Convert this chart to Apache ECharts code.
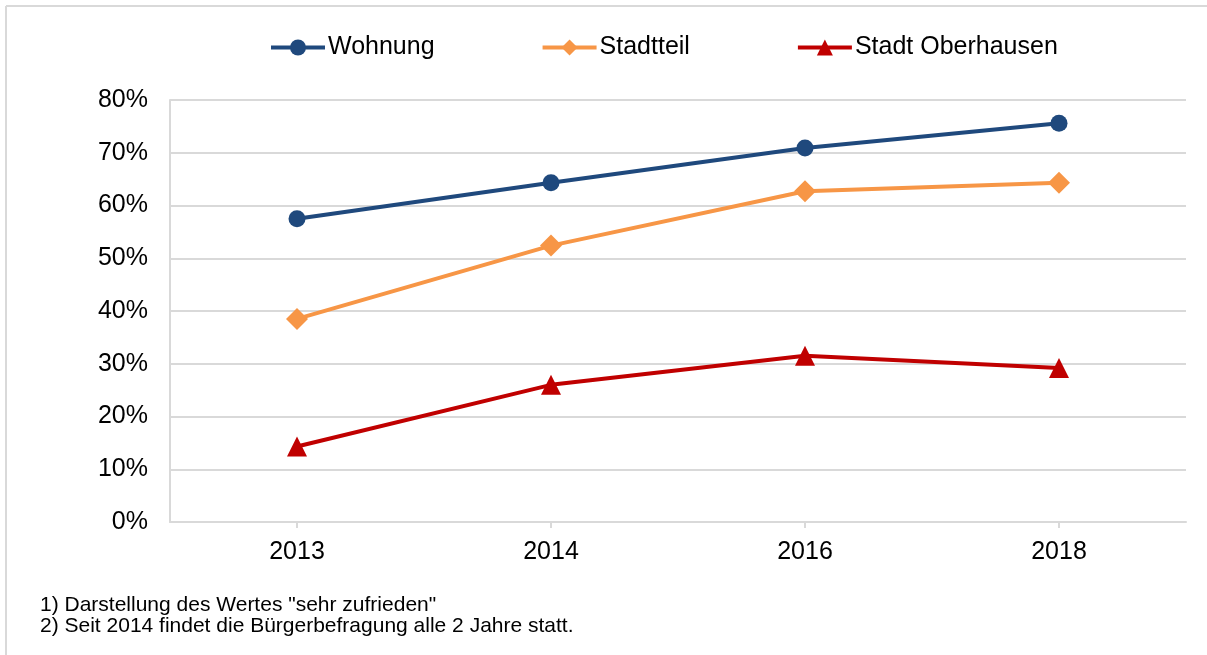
<!DOCTYPE html>
<html>
<head>
<meta charset="utf-8">
<script src="https://cdn.jsdelivr.net/npm/echarts@6/dist/echarts.min.js"></script>
<style>
  html, body { margin: 0; padding: 0; background: #fff; }
  #chart { width: 1207px; height: 655px; }
</style>
</head>
<body>
<div id="chart"></div>
<script>
var years = ['2013', '2014', '2016', '2018'];
var wohnung = [57.5, 64.3, 70.9, 75.6];
var stadtteil = [38.5, 52.4, 62.7, 64.3];
var stadtOberhausen = [14.3, 26.0, 31.5, 29.2];
var footnotes = [
    '1) Darstellung des Wertes "sehr zufrieden"',
    '2) Seit 2014 findet die Bürgerbefragung alle 2 Jahre statt.'
];

var chart = echarts.init(document.getElementById('chart'));
var font = '"Liberation Sans", Arial, sans-serif';

function lineSeries(name, data, color, symbol, size) {
    return {
        name: name,
        type: 'line',
        data: data,
        symbol: symbol,
        symbolSize: size,
        lineStyle: { width: 4, color: color },
        itemStyle: { color: color },
        emphasis: { disabled: true },
        z: 3
    };
}

chart.setOption({
    backgroundColor: '#fff',
    animation: false,
    textStyle: { fontFamily: font },
    legend: {
        left: 264,
        top: 30,
        itemWidth: 54,
        itemHeight: 20,
        itemGap: 106,
        lineStyle: { width: 4 },
        textStyle: { fontSize: 25, color: '#000', fontFamily: font, padding: [0, 0, 0, -2] },
        data: ['Wohnung', 'Stadtteil', 'Stadt Oberhausen']
    },
    grid: { left: 170, right: 21, top: 100, bottom: 133, containLabel: false },
    xAxis: {
        type: 'category',
        data: years,
        boundaryGap: true,
        axisLine: { lineStyle: { color: '#d9d9d9', width: 2 } },
        axisTick: { show: true, alignWithLabel: true, length: 6, lineStyle: { color: '#d9d9d9', width: 2 } },
        axisLabel: { fontSize: 25, color: '#000', margin: 18, fontFamily: font }
    },
    yAxis: {
        type: 'value',
        min: 0,
        max: 80,
        interval: 10,
        axisLine: { show: true, lineStyle: { color: '#d9d9d9', width: 2 } },
        axisTick: { show: false },
        splitLine: { lineStyle: { color: '#d9d9d9', width: 2 } },
        axisLabel: { formatter: '{value}%', fontSize: 25, color: '#000', margin: 22, fontFamily: font }
    },
    graphic: [
        { type: 'line', shape: { x1: 6, y1: 6, x2: 1207, y2: 6 }, style: { stroke: '#d9d9d9', lineWidth: 2 } },
        { type: 'line', shape: { x1: 6, y1: 6, x2: 6, y2: 655 }, style: { stroke: '#d9d9d9', lineWidth: 2 } },
        {
            type: 'text', left: 40, top: 595,
            style: { text: footnotes.join('\n'), fontSize: 21, lineHeight: 21, fill: '#000', font: '21px ' + font }
        }
    ],
    series: [
        lineSeries('Wohnung', wohnung, '#1f497d', 'circle', 17),
        lineSeries('Stadtteil', stadtteil, '#f79646', 'diamond', 22),
        lineSeries('Stadt Oberhausen', stadtOberhausen, '#c00000', 'triangle', 20)
    ]
});
</script>
</body>
</html>
